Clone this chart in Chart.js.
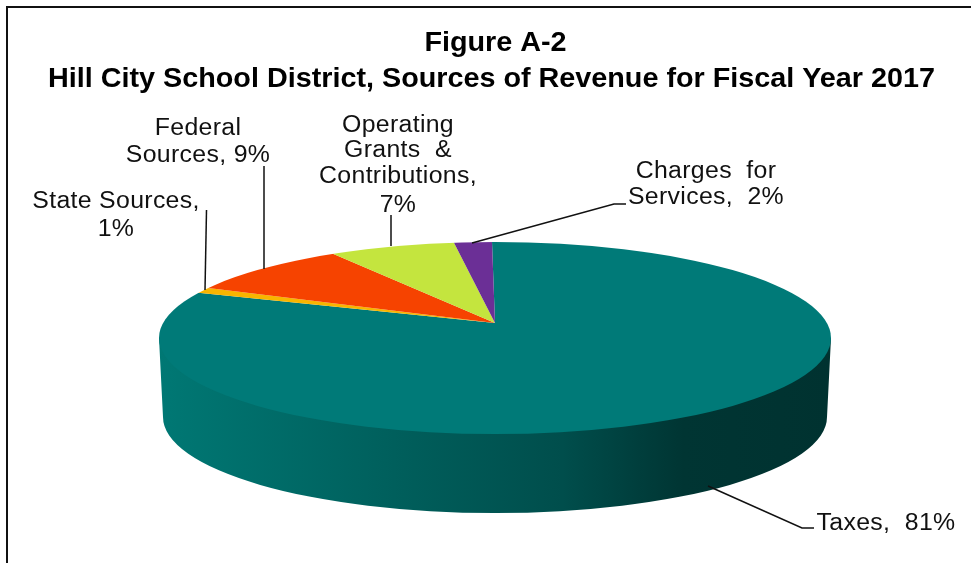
<!DOCTYPE html>
<html>
<head>
<meta charset="utf-8">
<title>Figure A-2</title>
<script src="https://cdn.jsdelivr.net/npm/chart.js@4"></script>
<style>
  html, body { margin: 0; padding: 0; background: #fff; }
  canvas { display: block; }
</style>
</head>
<body>
<canvas id="myChart" width="971" height="563"></canvas>
<script>
// Data
const titleText = " Figure A-2";
const subtitleText = "Hill City School District, Sources of Revenue for Fiscal Year 2017";
const categories = ["Taxes", "State Sources", "Federal Sources", "Operating Grants & Contributions", "Charges for Services"];
// the labels show them rounded
const shares = [81.1, 1.05, 9.3, 6.6, 1.95];
const sliceColors = ["#007a78", "#f8b500", "#f64300", "#c4e53e", "#6b2f96"];

// Label wrapping as in the picture
const labelLines = [
  ["Taxes,  81%"],
  ["State Sources,", "1%"],
  ["Federal", "Sources, 9%"],
  ["Operating", "Grants  &", "Contributions,", "7%"],
  ["Charges  for", "Services,  2%"],
];

// Where each label sits: center x and the baseline of every line
const labelSpots = [
  { x: 886, ys: [530] },
  { x: 116, ys: [208, 236] },
  { x: 198, ys: [135, 162] },
  { x: 398, ys: [131.5, 157, 183, 212] },
  { x: 706, ys: [178, 204] },
];

const leaderLines = [
  [[708, 486], [802, 528], [814, 528]],
  [[206.5, 210], [205, 290]],
  [[264, 166], [264, 269]],
  [[391, 215], [391, 246]],
  [[472, 243], [614, 204], [626, 204]],
];

// Pie geometry: the top face is an ellipse, the slices meet above its center
const face = { x: 495, y: 338, rx: 336, ry: 96 };
const apex = { x: 495, y: 323, squash: 0.26 };
const wallBottom = { x: 495, y: 417, rx: 332, ry: 96 };

// The text in the picture is wider than the font
const titleStretch = { x: 491.5, sx: 1.065 };
const labelStretch = 1.08;

const ctx = document.getElementById("myChart");

const pie3d = {
  id: "pie3d",
  beforeDraw(chart) {
    const c = chart.ctx;
    c.save();
    c.fillStyle = "#fff";
    c.fillRect(0, 0, chart.width, chart.height);
    // frame, the right and bottom sides are cut off
    c.strokeStyle = "#111";
    c.lineWidth = 2;
    c.beginPath();
    c.moveTo(7, 563);
    c.lineTo(7, 7);
    c.lineTo(971, 7);
    c.stroke();
    c.restore();
    // stays on while the title and subtitle are drawn
    c.save();
    c.translate(titleStretch.x, 0);
    c.scale(titleStretch.sx, 1);
    c.translate(-titleStretch.x, 0);
  },
  beforeDatasetsDraw(chart) {
    const c = chart.ctx;
    const arc = chart.getDatasetMeta(0).data[0];
    c.restore();

    // side wall
    const wall = c.createLinearGradient(face.x - face.rx, 0, face.x + face.rx, 0);
    wall.addColorStop(0, "#007874");
    wall.addColorStop(0.35, "#005f5c");
    wall.addColorStop(0.6, "#004e4c");
    wall.addColorStop(0.78, "#003533");
    wall.addColorStop(1, "#003230");
    c.save();
    c.fillStyle = wall;
    c.beginPath();
    c.moveTo(face.x - face.rx, face.y);
    c.lineTo(wallBottom.x - wallBottom.rx, wallBottom.y);
    c.ellipse(wallBottom.x, wallBottom.y, wallBottom.rx, wallBottom.ry, 0, Math.PI, 0, true);
    c.lineTo(face.x + face.rx, face.y);
    c.closePath();
    c.fill();
    c.restore();

    // squash the round pie onto the top face
    c.save();
    c.beginPath();
    c.ellipse(face.x, face.y, face.rx, face.ry, 0, 0, Math.PI * 2);
    c.clip();
    c.translate(apex.x, apex.y);
    c.scale(1, apex.squash);
    c.translate(-arc.x, -arc.y);
  },
  afterDatasetsDraw(chart) {
    const c = chart.ctx;
    c.restore();

    // leader lines
    c.save();
    c.strokeStyle = "#111";
    c.lineWidth = 1.5;
    leaderLines.forEach((pts) => {
      c.beginPath();
      pts.forEach((p, i) => (i ? c.lineTo(p[0], p[1]) : c.moveTo(p[0], p[1])));
      c.stroke();
    });

    // labels
    c.fillStyle = "#111";
    c.font = "23px 'Liberation Sans'";
    c.letterSpacing = "0.3px";
    c.textAlign = "center";
    c.textBaseline = "alphabetic";
    labelLines.forEach((lines, i) => {
      const spot = labelSpots[i];
      lines.forEach((line, j) => {
        c.save();
        c.translate(spot.x, spot.ys[j]);
        c.scale(labelStretch, 1);
        c.fillText(line, 0, 0);
        c.restore();
      });
    });
    c.restore();
  },
};

new Chart(ctx, {
  type: "pie",
  data: {
    labels: categories,
    datasets: [
      {
        data: shares,
        backgroundColor: sliceColors,
        borderWidth: 0,
        radius: 450,
        clip: false,
      },
    ],
  },
  options: {
    responsive: false,
    animation: false,
    rotation: -0.55,
    layout: { padding: { left: 12, top: 27 } },
    plugins: {
      legend: { display: false },
      tooltip: { enabled: false },
      title: {
        display: true,
        text: titleText,
        color: "#000",
        font: { family: "'Liberation Sans'", size: 27, weight: "bold" },
        padding: { top: 0, bottom: 2 },
      },
      subtitle: {
        display: true,
        text: subtitleText,
        color: "#000",
        font: { family: "'Liberation Sans'", size: 27, weight: "bold" },
        padding: { top: 2, bottom: 0 },
      },
    },
  },
  plugins: [pie3d],
});
</script>
</body>
</html>
